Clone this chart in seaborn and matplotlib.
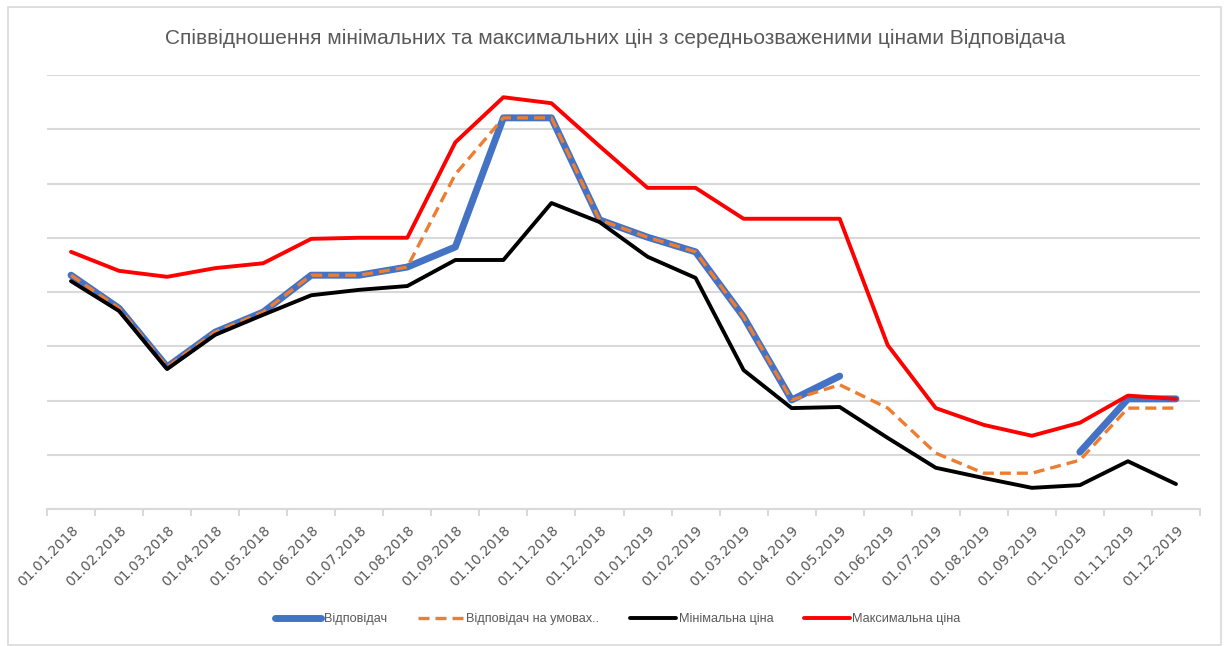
import numpy as np
import pandas as pd
import matplotlib
matplotlib.use("Agg")
import matplotlib.pyplot as plt
import seaborn as sns
from matplotlib.patches import Rectangle

sns.set_theme(style="white")
plt.rcParams["font.family"] = ["Liberation Sans", "DejaVu Sans"]

# dates on the category axis
dates = ["01.01.2018", "01.02.2018", "01.03.2018", "01.04.2018", "01.05.2018", "01.06.2018",
         "01.07.2018", "01.08.2018", "01.09.2018", "01.10.2018", "01.11.2018", "01.12.2018",
         "01.01.2019", "01.02.2019", "01.03.2019", "01.04.2019", "01.05.2019", "01.06.2019",
         "01.07.2019", "01.08.2019", "01.09.2019", "01.10.2019", "01.11.2019", "01.12.2019"]

# values (no y scale shown, gridline units)
vidpovidach = [4.31, 3.70, 2.62, 3.26, 3.63, 4.31, 4.31, 4.46, 4.83, 7.21, 7.21, 5.33,
               5.01, 4.74, 3.54, 2.01, 2.45, np.nan, np.nan, np.nan, np.nan, 1.05, 2.03, 2.03]
na_umovakh = [4.31, 3.70, 2.62, 3.26, 3.63, 4.31, 4.31, 4.46, 6.17, 7.21, 7.21, 5.33,
              5.01, 4.74, 3.54, 2.01, 2.29, 1.86, 1.03, 0.66, 0.66, 0.90, 1.86, 1.86]
min_price = [4.20, 3.65, 2.58, 3.21, 3.58, 3.94, 4.04, 4.11, 4.59, 4.59, 5.64, 5.29,
             4.65, 4.26, 2.56, 1.86, 1.88, 1.31, 0.76, 0.57, 0.39, 0.44, 0.88, 0.46]
max_price = [4.74, 4.39, 4.28, 4.44, 4.53, 4.98, 5.00, 5.00, 6.76, 7.59, 7.48, 6.69,
             5.92, 5.92, 5.35, 5.35, 5.35, 3.02, 1.86, 1.55, 1.35, 1.59, 2.09, 2.03]

df = pd.DataFrame({"pos": range(len(dates)), "date": dates,
                   "vid": vidpovidach, "umov": na_umovakh,
                   "min": min_price, "max": max_price})

W, H = 1229, 646
fig = plt.figure(figsize=(W / 100, H / 100), dpi=100)
ax = fig.add_axes([47 / W, 1 - 509 / H, (1200 - 47) / W, (509 - 75) / H])

grey = "#595959"

# blue line has a gap where data is missing -> draw pieces separately
seg1 = df.loc[:16]
seg2 = df.loc[21:]
sns.lineplot(x="pos", y="vid", data=seg1, ax=ax, color="#4472C4", lw=5,
             solid_capstyle="round", solid_joinstyle="round", label="Відповідач")
sns.lineplot(x="pos", y="vid", data=seg2, ax=ax, color="#4472C4", lw=5,
             solid_capstyle="round", solid_joinstyle="round")
sns.lineplot(x="pos", y="umov", data=df, ax=ax, color="#ED7D31", lw=2.4,
             linestyle=(0, (3.3, 1.8)), label="Відповідач на умовах..")
sns.lineplot(x="pos", y="min", data=df, ax=ax, color="black", lw=2.8,
             solid_joinstyle="round", label="Мінімальна ціна")
sns.lineplot(x="pos", y="max", data=df, ax=ax, color="#FF0000", lw=2.8,
             solid_joinstyle="round", label="Максимальна ціна")

ax.set_xlim(-0.5, len(dates) - 0.5)
ax.set_ylim(0, 8)
ax.set_yticks(range(0, 9))
ax.set_yticklabels([])
ax.yaxis.grid(True, color="#d9d9d9", lw=1.5)
ax.set_axisbelow(True)
for s in ["left", "right", "top"]:
    ax.spines[s].set_visible(False)
ax.spines["bottom"].set_color("#d9d9d9")
ax.spines["bottom"].set_linewidth(1.5)
ax.set_xlabel("")
ax.set_ylabel("")

ax.set_xticks(df["pos"])
ax.set_xticklabels(dates, rotation=45, ha="right", rotation_mode="anchor",
                   color=grey, fontsize=10, family=["DejaVu Sans"])
ax.set_xticks(np.arange(-0.5, len(dates)), minor=True)
ax.tick_params(axis="x", which="major", length=0, pad=10)
ax.tick_params(axis="x", which="minor", length=5, color="#d9d9d9", width=1.5, bottom=True)
ax.tick_params(axis="y", length=0)

ax.get_legend().remove()
handles, labels = ax.get_legend_handles_labels()
fig.legend(handles, labels, loc="center", bbox_to_anchor=(618 / W, 1 - 619 / H), ncol=4,
           frameon=False, fontsize=9.2, labelcolor=grey, handlelength=3.6,
           handletextpad=0.2, columnspacing=2.4)

fig.text(615 / W, 1 - 38 / H,
         "Співвідношення мінімальних та максимальних цін з середньозваженими цінами Відповідача",
         ha="center", va="center", fontsize=15, color=grey)

# chart frame
fig.patches.append(Rectangle((8 / W, 1 / H), (1221 - 8) / W, (642 - 4) / H,
                             transform=fig.transFigure, fill=False,
                             edgecolor="#d9d9d9", lw=1.2))

fig.savefig("out.png", dpi=100)
